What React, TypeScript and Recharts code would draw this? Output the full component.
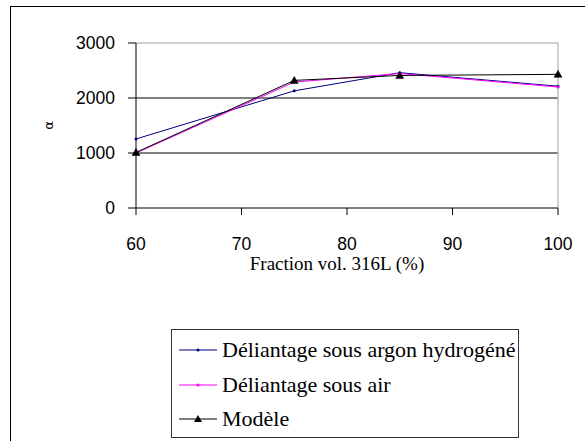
import React from 'react';
import { LineChart, Line, XAxis, YAxis, ReferenceLine, Legend, Label } from 'recharts';

const fractions = [60, 75, 85, 100];
const argonValues = [1255, 2130, 2460, 2215];
const airValues = [1000, 2290, 2445, 2200];
const modeleValues = [1010, 2320, 2410, 2430];

const xTicks = [60, 70, 80, 90, 100];
const yTicks = [0, 1000, 2000, 3000];
const gridValues = [1000, 2000];

const xTitle = 'Fraction vol. 316L (%)';
const yTitle = 'α';

const series = [
  { key: 'argon', name: 'Déliantage sous argon hydrogéné', color: '#000080', marker: 'dot' },
  { key: 'air', name: 'Déliantage sous air', color: '#FF00FF', marker: 'dot' },
  { key: 'modele', name: 'Modèle', color: '#000000', marker: 'triangle' },
];

const data = fractions.map((f, i) => ({
  fraction: f,
  argon: argonValues[i],
  air: airValues[i],
  modele: modeleValues[i],
}));

const tickStyle = { fontFamily: '"Liberation Sans", Arial, sans-serif', fontSize: 17.5, fill: '#000' };
const serif = '"Liberation Serif", "Times New Roman", serif';

const makeDot = (color: string, marker: string) => (props: any) => {
  const { cx, cy, index } = props;
  if (cx == null || cy == null) return <g key={index} />;
  if (marker === 'triangle') {
    return (
      <polygon
        key={index}
        points={`${cx},${cy - 4} ${cx + 4},${cy + 3} ${cx - 4},${cy + 3}`}
        fill={color}
        stroke={color}
        strokeWidth={0.5}
      />
    );
  }
  return <circle key={index} cx={cx} cy={cy} r={1.5} fill={color} stroke="none" />;
};

const renderLegend = () => (
  <div
    style={{
      boxSizing: 'border-box',
      width: 348,
      height: 109,
      border: '1px solid #333',
      background: '#fff',
      paddingTop: 3,
    }}
  >
    {series.map((s) => (
      <div key={s.key} style={{ height: 34.5, display: 'flex', alignItems: 'center', position: 'relative' }}>
        <svg width={50} height={20} style={{ display: 'block', flex: 'none' }}>
          <line x1={7} y1={10} x2={45} y2={10} stroke={s.color} strokeWidth={1.2} />
          {s.marker === 'triangle' ? (
            <polygon points={`26,6 30,13 22,13`} fill={s.color} />
          ) : (
            <circle cx={26} cy={10} r={1.5} fill={s.color} />
          )}
        </svg>
        <span style={{ fontFamily: serif, fontSize: 22, color: '#000', whiteSpace: 'nowrap', lineHeight: 1 }}>
          {s.name}
        </span>
      </div>
    ))}
  </div>
);

export default function App() {
  return (
    <div
      style={{
        position: 'absolute',
        left: 0,
        top: 0,
        width: 585,
        height: 441,
        overflow: 'hidden',
        background: '#fff',
      }}
    >
      <div
        style={{
          position: 'absolute',
          left: 10,
          top: 6,
          width: 620,
          height: 500,
          border: '1px solid #000',
        }}
      />
      <div style={{ position: 'absolute', left: 0, top: 0 }}>
        <LineChart width={585} height={441} data={data} margin={{ top: 43, right: 27, left: 0, bottom: 193 }}>
          <XAxis
            dataKey="fraction"
            type="number"
            domain={[60, 100]}
            ticks={xTicks}
            height={40}
            tickSize={7}
            tickMargin={23}
            tick={tickStyle}
            axisLine={{ stroke: '#000' }}
            tickLine={{ stroke: '#000' }}
          >
            <Label
              content={(props: any) => {
                const vb = props.viewBox || {};
                return (
                  <text
                    x={vb.x + vb.width / 2 - 10}
                    y={vb.y + 62}
                    textAnchor="middle"
                    fontFamily={serif}
                    fontSize={19}
                    fill="#000"
                  >
                    {xTitle}
                  </text>
                );
              }}
            />
          </XAxis>
          <YAxis
            type="number"
            domain={[0, 3000]}
            ticks={yTicks}
            width={136}
            tickSize={8}
            tickMargin={13}
            tick={tickStyle}
            axisLine={{ stroke: '#000' }}
            tickLine={{ stroke: '#000' }}
          >
            <Label
              content={(props: any) => {
                const vb = props.viewBox || {};
                const x = vb.x + 48;
                const y = vb.y + vb.height / 2;
                return (
                  <text
                    x={x}
                    y={y}
                    textAnchor="middle"
                    dominantBaseline="central"
                    transform={`rotate(-90, ${x}, ${y})`}
                    fontFamily='"DejaVu Sans", sans-serif'
                    fontSize={13}
                    fill="#000"
                  >
                    {yTitle}
                  </text>
                );
              }}
            />
          </YAxis>
          {gridValues.map((v) => (
            <ReferenceLine key={v} y={v} stroke="#000" strokeWidth={1} />
          ))}
          <ReferenceLine y={3000} stroke="#a0a0a0" strokeWidth={1} />
          <ReferenceLine x={100} stroke="#a0a0a0" strokeWidth={1} />
          {series.map((s) => (
            <Line
              key={s.key}
              dataKey={s.key}
              name={s.name}
              type="linear"
              stroke={s.color}
              strokeWidth={1}
              dot={makeDot(s.color, s.marker)}
              activeDot={false}
              isAnimationActive={false}
            />
          ))}
          <Legend
            layout="vertical"
            align="center"
            verticalAlign="middle"
            content={renderLegend}
            wrapperStyle={{ left: 171, top: 329, width: 348, height: 109 }}
          />
        </LineChart>
      </div>
    </div>
  );
}
